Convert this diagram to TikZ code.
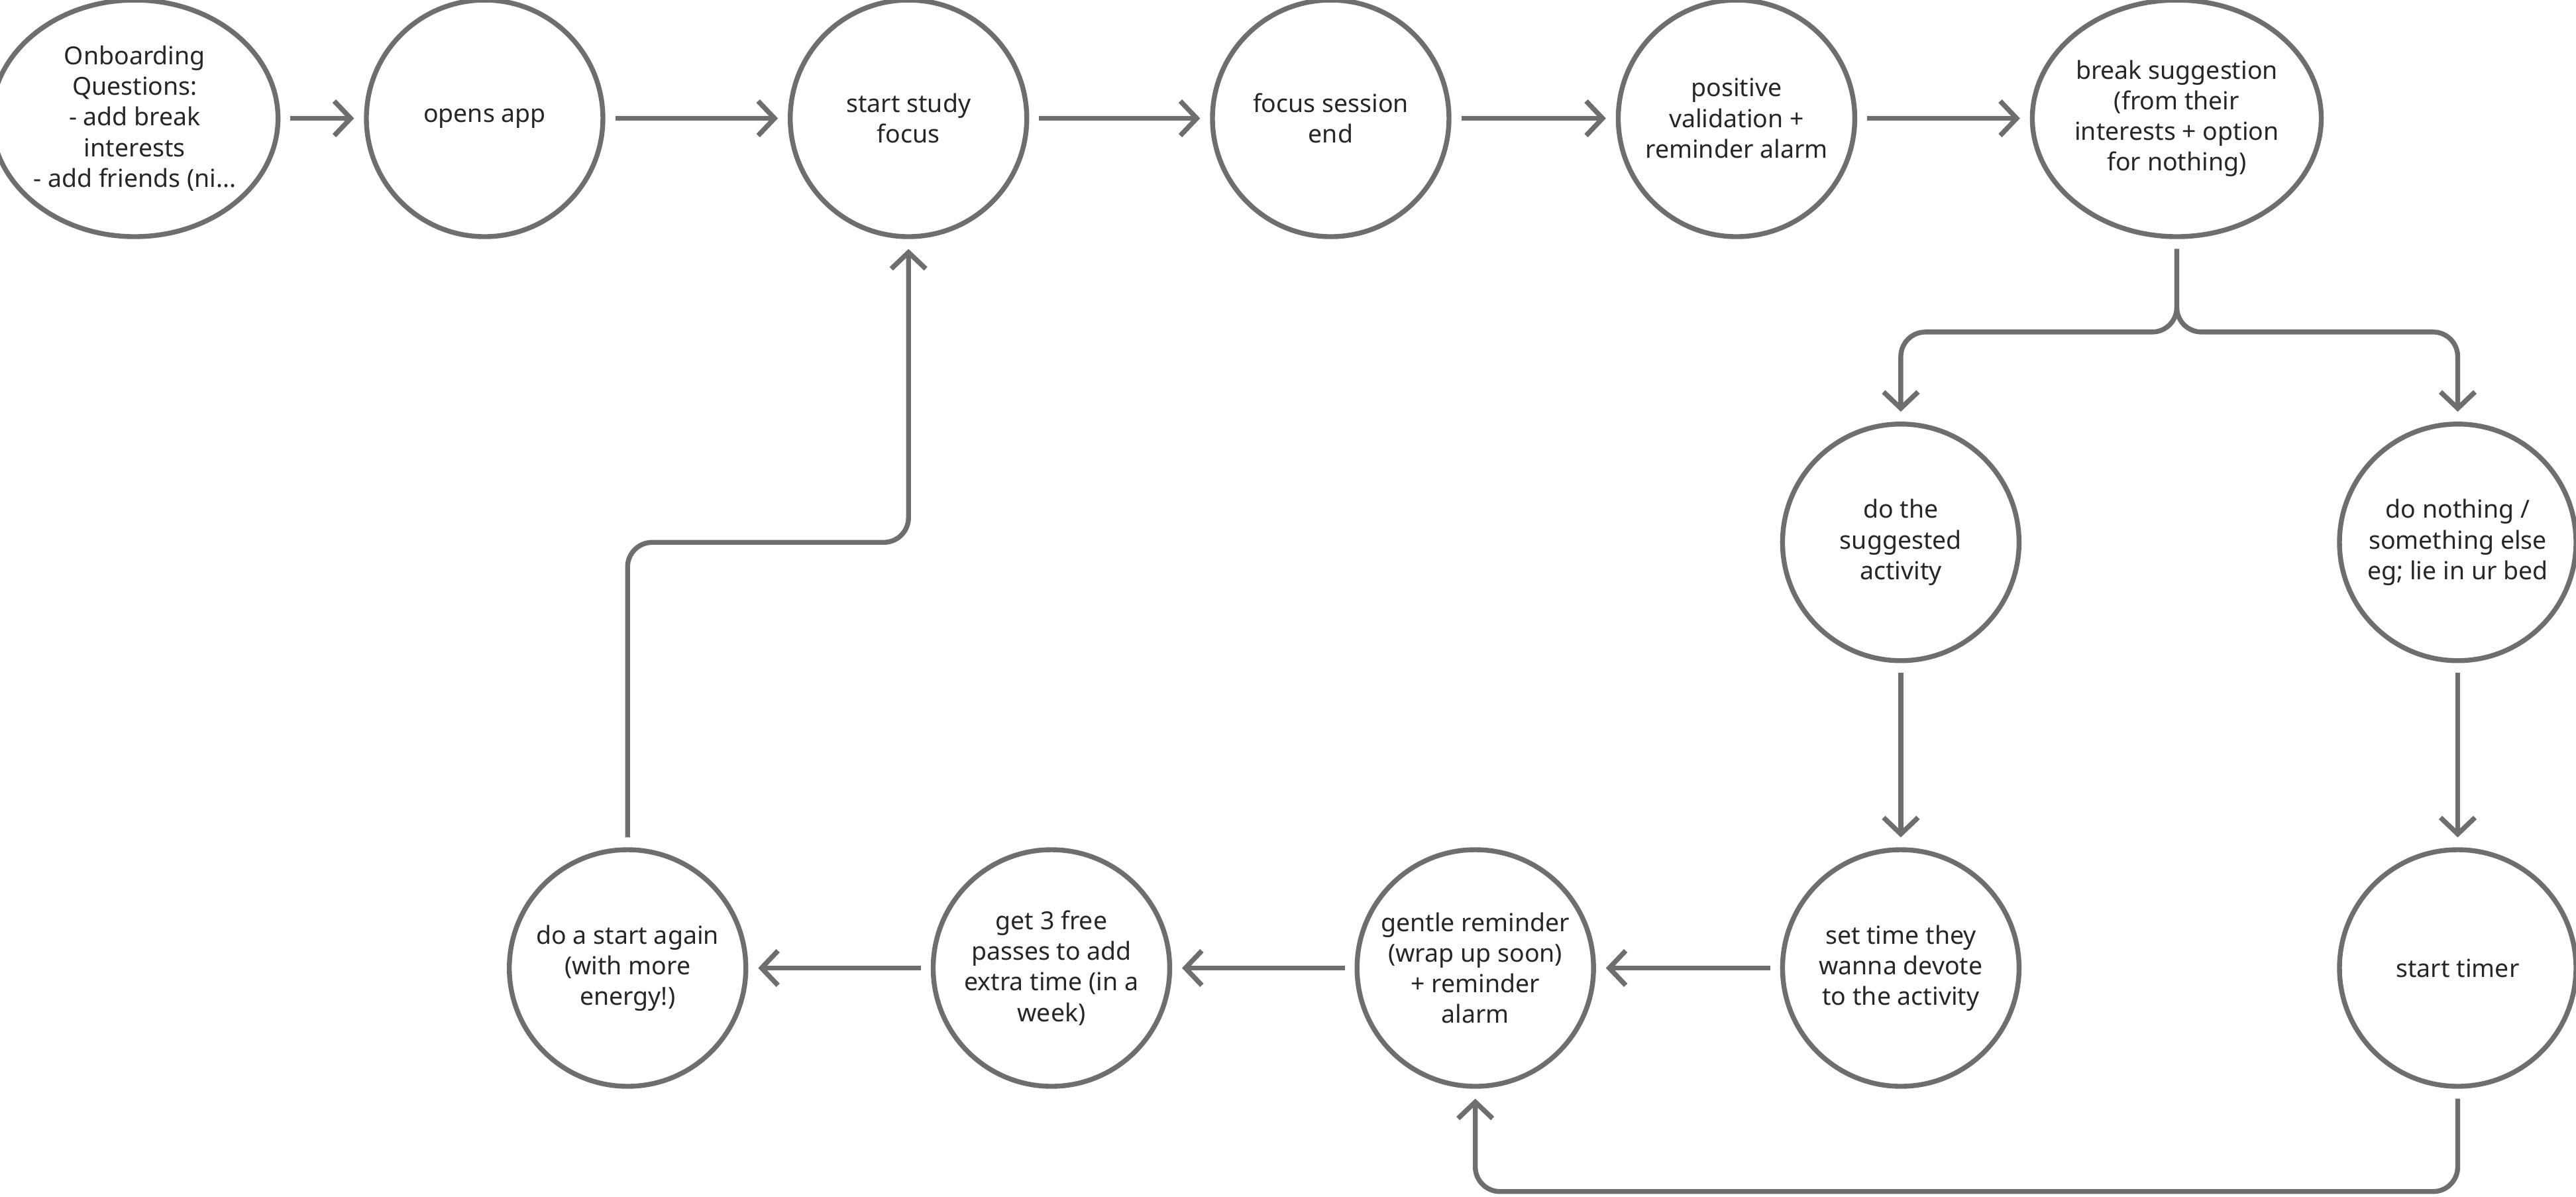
\documentclass[tikz,border=0pt]{standalone}
\usepackage{fontspec}
\setmainfont{Noto Sans}
\usetikzlibrary{shapes.geometric,arrows.meta}
\definecolor{ln}{HTML}{6E6E6E}
\begin{document}
\begin{tikzpicture}[x=0.02cm,y=-0.02cm,
  st/.style={circle,draw=ln,line width=1.7pt,minimum size=2.88cm,inner sep=0pt,align=center,font=\fontsize{8.6}{10.6}\selectfont,text=black!85},
  el/.style={ellipse,draw=ln,line width=1.7pt,minimum width=3.2cm,minimum height=2.88cm,inner sep=0pt,align=center,font=\fontsize{8.6}{10.6}\selectfont,text=black!85},
  ar/.style={draw=ln,line width=1.7pt,-{Straight Barb[length=0.2cm,width=0.42cm]},shorten >=0.12cm,shorten <=0.12cm,rounded corners=0.3cm}]
\useasboundingbox (0,0) rectangle (1568,728);
\node[el] (a) at (82,72) {Onboarding\\Questions:\\- add break\\interests\\- add friends (ni...};
\node[st] (b) at (295,72) {opens app};
\node[st] (c) at (553,72) {start study\\focus};
\node[st] (d) at (810,72) {focus session\\end};
\node[st] (e) at (1057,72) {positive\\validation +\\reminder alarm};
\node[el] (f) at (1325,72) {break suggestion\\(from their\\interests + option\\for nothing)};
\node[st] (g) at (1157,330) {do the\\suggested\\activity};
\node[st] (h) at (1496,330) {do nothing /\\something else\\eg; lie in ur bed};
\node[st] (i) at (1157,589) {set time they\\wanna devote\\to the activity};
\node[st] (j) at (1496,589) {start timer};
\node[st] (k) at (898,589) {gentle reminder\\(wrap up soon)\\+ reminder\\alarm};
\node[st] (l) at (640,589) {get 3 free\\passes to add\\extra time (in a\\week)};
\node[st] (m) at (382,589) {do a start again\\(with more\\energy!)};
\draw[ar] (a) -- (b);
\draw[ar] (b) -- (c);
\draw[ar] (c) -- (d);
\draw[ar] (d) -- (e);
\draw[ar] (e) -- (f);
\draw[ar] (f.south) -- (1325,202) -- (g.north |- 0,202) -- (g.north);
\draw[ar] (f.south) -- (1325,202) -- (h.north |- 0,202) -- (h.north);
\draw[ar] (g) -- (i);
\draw[ar] (h) -- (j);
\draw[ar] (i) -- (k);
\draw[ar] (k) -- (l);
\draw[ar] (l) -- (m);
\draw[ar] (j.south) -- (1496,725) -- (k.south |- 0,725) -- (k.south);
\draw[ar] (m.north) -- (382,330) -- (c.south |- 0,330) -- (c.south);
\end{tikzpicture}
\end{document}
